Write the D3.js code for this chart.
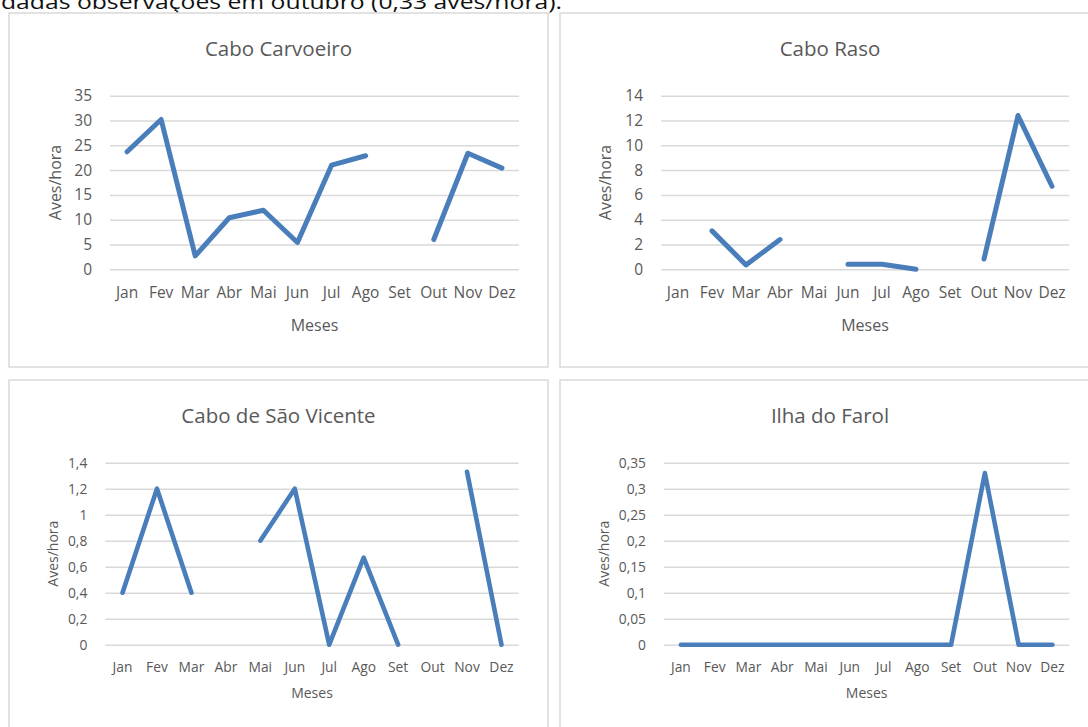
<!DOCTYPE html>
<html lang="pt">
<head>
<meta charset="utf-8">
<script src="https://cdn.jsdelivr.net/npm/d3@7"></script>
<style>
  html, body { margin: 0; padding: 0; background: #fff; }
  svg { display: block; }
  text { font-family: "Open Sans", "Noto Sans", sans-serif; }
</style>
</head>
<body>
<svg id="chart" width="1088" height="727"></svg>
<script>
// Months shown on every x axis
const months = ["Jan", "Fev", "Mar", "Abr", "Mai", "Jun", "Jul", "Ago", "Set", "Out", "Nov", "Dez"];

// Birds per hour by month at each site (null = no observations)
const caboCarvoeiro = [23.7, 30.2, 2.7, 10.4, 11.9, 5.4, 21.0, 22.9, null, 6.0, 23.4, 20.4];
const caboRaso = [null, 3.1, 0.35, 2.4, null, 0.4, 0.4, 0.0, null, 0.83, 12.4, 6.7];
const caboSaoVicente = [0.4, 1.2, 0.4, null, 0.8, 1.2, 0.0, 0.67, 0.0, null, 1.33, 0.0];
const ilhaDoFarol = [0, 0, 0, 0, 0, 0, 0, 0, 0, 0.33, 0, 0];

// Y-axis tick values for each panel
const ticksCarvoeiro = [0, 5, 10, 15, 20, 25, 30, 35];
const ticksRaso = [0, 2, 4, 6, 8, 10, 12, 14];
const ticksSaoVicente = [0, 0.2, 0.4, 0.6, 0.8, 1, 1.2, 1.4];
const ticksFarol = [0, 0.05, 0.1, 0.15, 0.2, 0.25, 0.3, 0.35];

const titles = ["Cabo Carvoeiro", "Cabo Raso", "Cabo de São Vicente", "Ilha do Farol"];
const yTitle = "Aves/hora";
const xTitle = "Meses";
const captionText = "dadas observações em outubro (0,33 aves/hora).";

const svg = d3.select("#chart");
const pt = d3.formatLocale({ decimal: ",", thousands: ".", grouping: [3], currency: ["€", ""] });
const fmt = v => pt.format("~g")(+v.toFixed(4));

const LINE = "#4a7ebb";
const GRID = "#d9d9d9";
const INK = "#595959";

// Caption line of the surrounding document, clipped by the top edge
svg.append("text")
  .attr("x", 1).attr("y", 9)
  .attr("textLength", 561).attr("lengthAdjust", "spacingAndGlyphs")
  .attr("font-size", 20).attr("fill", "#111")
  .text(captionText);

const panels = [
  { title: titles[0], values: caboCarvoeiro, ticks: ticksCarvoeiro,
    box: [9, 13, 539, 354], plot: [110, 95.7, 519, 269.3],
    titleY: 56, yTitleX: 55, xLabY: 293, xTitleY: 325,
    tickSize: 15.5, axisTitleSize: 16, lw: 5 },
  { title: titles[1], values: caboRaso, ticks: ticksRaso,
    box: [560, 13, 540, 354], plot: [661, 95.7, 1069, 269.3],
    titleY: 56, yTitleX: 605, xLabY: 293, xTitleY: 325,
    tickSize: 15.5, axisTitleSize: 16, lw: 5 },
  { title: titles[2], values: caboSaoVicente, ticks: ticksSaoVicente,
    box: [9, 380, 539, 360], plot: [105.3, 462.7, 518.7, 644.7],
    titleY: 423, yTitleX: 53, xLabY: 666.7, xTitleY: 693,
    tickSize: 13.8, axisTitleSize: 14, lw: 4.6 },
  { title: titles[3], values: ilhaDoFarol, ticks: ticksFarol,
    box: [560, 380, 540, 360], plot: [664, 462.7, 1069.3, 644.7],
    titleY: 423, yTitleX: 604, xLabY: 666.7, xTitleY: 693,
    tickSize: 13.8, axisTitleSize: 14, lw: 4.6 }
];

panels.forEach(p => {
  const g = svg.append("g");
  const [bx, by, bw, bh] = p.box;
  g.append("rect")
    .attr("x", bx).attr("y", by).attr("width", bw).attr("height", bh)
    .attr("fill", "#fff").attr("stroke", GRID).attr("stroke-width", 1.5);

  const [x0, y0, x1, y1] = p.plot;
  const x = d3.scaleBand().domain(months).range([x0, x1]).padding(0);
  const y = d3.scaleLinear().domain([0, d3.max(p.ticks)]).range([y1, y0]);

  // Horizontal gridlines and y tick labels
  const yAxis = g.append("g")
    .attr("transform", `translate(${x0},0)`)
    .call(d3.axisLeft(y).tickValues(p.ticks).tickSize(-(x1 - x0)).tickPadding(18).tickFormat(fmt));
  yAxis.select(".domain").remove();
  yAxis.selectAll(".tick line").attr("stroke", GRID).attr("stroke-width", 1.5);
  yAxis.selectAll(".tick text")
    .attr("fill", INK).attr("font-size", p.tickSize)
    .attr("font-family", "\"Open Sans\", sans-serif");

  // Month labels
  const xAxis = g.append("g")
    .attr("transform", `translate(0,${p.xLabY})`)
    .call(d3.axisBottom(x).tickSize(0).tickPadding(0));
  xAxis.select(".domain").remove();
  xAxis.selectAll(".tick text")
    .attr("y", 0).attr("dy", "0.35em")
    .attr("fill", INK).attr("font-size", p.tickSize)
    .attr("font-family", "\"Open Sans\", sans-serif");

  // Series line, broken where a month has no data
  const line = d3.line()
    .defined(d => d.v !== null)
    .x(d => x(d.m) + x.bandwidth() / 2)
    .y(d => y(d.v));
  g.append("path")
    .datum(months.map((m, i) => ({ m, v: p.values[i] })))
    .attr("d", line)
    .attr("fill", "none")
    .attr("stroke", LINE)
    .attr("stroke-width", p.lw)
    .attr("stroke-linejoin", "round")
    .attr("stroke-linecap", "round");

  // Chart title
  g.append("text")
    .attr("x", bx + bw / 2 - (bw > 539 ? 0 : 0))
    .attr("y", p.titleY)
    .attr("text-anchor", "middle")
    .attr("font-size", 20.5).attr("fill", INK)
    .text(p.title);

  // Axis titles
  g.append("text")
    .attr("transform", `translate(${p.yTitleX},${(y0 + y1) / 2}) rotate(-90)`)
    .attr("text-anchor", "middle").attr("dy", "0.35em")
    .attr("font-size", p.axisTitleSize).attr("fill", INK)
    .text(yTitle);
  g.append("text")
    .attr("x", (x0 + x1) / 2).attr("y", p.xTitleY).attr("dy", "0.35em")
    .attr("text-anchor", "middle")
    .attr("font-size", p.axisTitleSize).attr("fill", INK)
    .text(xTitle);
});
</script>
</body>
</html>
